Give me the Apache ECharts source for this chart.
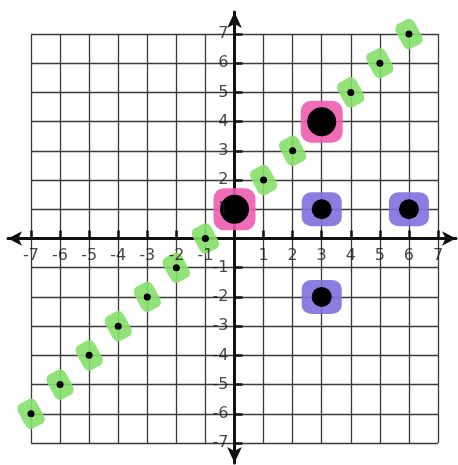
<!DOCTYPE html>
<html>
<head>
<meta charset="utf-8">
<script src="https://cdn.jsdelivr.net/npm/echarts@6/dist/echarts.min.js"></script>
<style>
  html, body { margin: 0; padding: 0; background: #fff; }
  #chart { width: 458px; height: 465px; }
</style>
</head>
<body>
<div id="chart"></div>
<script>
// axis range and ticks
const axisMin = -7
const axisMax = 7
const tickStep = 1
// tick labels written along the axes (no 0)
const xTickLabels = [-7, -6, -5, -4, -3, -2, -1, 1, 2, 3, 4, 5, 6, 7]
const yTickLabels = [-7, -6, -5, -4, -3, -2, -1, 1, 2, 3, 4, 5, 6, 7]

// points on the line y = x + 1 (green highlight)
const greenX = [-7, -6, -5, -4, -3, -2, -1, 1, 2, 4, 5, 6]
const greenY = [-6, -5, -4, -3, -2, -1, 0, 2, 3, 5, 6, 7]

// pink highlighted points
const pinkX = [0, 3]
const pinkY = [1, 4]

// purple highlighted points
const purpleX = [3, 6, 3]
const purpleY = [1, 1, -2]

const W = 458
const H = 465
// main grid box in pixels
const gLeft = 31, gRight = 20, gTop = 34, gBottom = 22
// where the arrows end
const arrLeft = 8, arrRight = 2, arrTop = 12, arrBottom = 2

const unitX = (W - gLeft - gRight) / (axisMax - axisMin)
const unitY = (H - gTop - gBottom) / (axisMax - axisMin)
const zeroX = gLeft - axisMin * unitX
const zeroY = gTop + axisMax * unitY
const extXMin = -(zeroX - arrLeft) / unitX
const extXMax = (W - arrRight - zeroX) / unitX
const extYMax = (zeroY - arrTop) / unitY
const extYMin = -(H - arrBottom - zeroY) / unitY

const pairs = (xs, ys) => xs.map((x, i) => [x, ys[i]])

const chart = echarts.init(document.getElementById('chart'))

const labelFont = {
  fontFamily: 'DejaVu Sans',
  fontSize: 16,
  color: '#1a1a1a',
}
const gridLine = { color: '#3a3a3a', width: 1.3 }

chart.setOption({
  animation: false,
  backgroundColor: '#fff',
  grid: [
    { left: gLeft, right: gRight, top: gTop, bottom: gBottom, containLabel: false, outerBoundsMode: 'none' },
    { left: arrLeft, right: arrRight, top: arrTop, bottom: arrBottom, containLabel: false, outerBoundsMode: 'none' },
  ],
  xAxis: [
    {
      type: 'value',
      gridIndex: 0,
      min: axisMin,
      max: axisMax,
      interval: tickStep,
      axisLine: { show: true, onZero: true, lineStyle: { color: '#111', width: 3 } },
      axisTick: { show: true, inside: true, length: 8, lineStyle: { color: '#111', width: 2.5 } },
      axisLabel: { show: false },
      splitLine: { show: true, lineStyle: gridLine },
    },
    {
      type: 'value',
      gridIndex: 1,
      min: extXMin,
      max: extXMax,
      axisLine: {
        show: true,
        onZero: true,
        symbol: ['arrow', 'arrow'],
        symbolSize: [11, 14],
        lineStyle: { color: '#111', width: 3 },
      },
      axisTick: { show: false },
      axisLabel: { show: false },
      splitLine: { show: false },
    },
  ],
  yAxis: [
    {
      type: 'value',
      gridIndex: 0,
      min: axisMin,
      max: axisMax,
      interval: tickStep,
      axisLine: { show: true, onZero: true, lineStyle: { color: '#111', width: 3 } },
      axisTick: { show: true, inside: true, length: 8, lineStyle: { color: '#111', width: 2.5 } },
      axisLabel: { show: false },
      splitLine: { show: true, lineStyle: gridLine },
    },
    {
      type: 'value',
      gridIndex: 1,
      min: extYMin,
      max: extYMax,
      axisLine: {
        show: true,
        onZero: true,
        symbol: ['arrow', 'arrow'],
        symbolSize: [11, 16],
        lineStyle: { color: '#111', width: 3 },
      },
      axisTick: { show: false },
      axisLabel: { show: false },
      splitLine: { show: false },
    },
  ],
  series: [
    {
      name: 'x labels',
      type: 'scatter',
      xAxisIndex: 0,
      yAxisIndex: 0,
      data: xTickLabels.map((v) => [v, 0]),
      symbolSize: 0,
      silent: true,
      label: {
        show: true,
        position: 'bottom',
        distance: 9,
        ...labelFont,
        formatter: (p) => String(p.value[0]),
      },
      z: 5,
    },
    {
      name: 'y labels',
      type: 'scatter',
      xAxisIndex: 0,
      yAxisIndex: 0,
      data: yTickLabels.map((v) => [0, v]),
      symbolSize: 0,
      silent: true,
      label: {
        show: true,
        position: 'left',
        distance: 6,
        ...labelFont,
        formatter: (p) => String(p.value[1]),
      },
      z: 5,
    },
    {
      name: 'green mark',
      type: 'scatter',
      xAxisIndex: 0,
      yAxisIndex: 0,
      data: pairs(greenX, greenY),
      symbol: 'roundRect',
      symbolSize: [21, 28],
      symbolRotate: 28,
      itemStyle: { color: '#86df6c', opacity: 0.9 },
      z: 3,
    },
    {
      name: 'pink mark',
      type: 'scatter',
      xAxisIndex: 0,
      yAxisIndex: 0,
      data: pairs(pinkX, pinkY),
      symbol: 'roundRect',
      symbolSize: [42, 42],
      itemStyle: { color: '#ee5cae', opacity: 0.9 },
      z: 3,
    },
    {
      name: 'purple mark',
      type: 'scatter',
      xAxisIndex: 0,
      yAxisIndex: 0,
      data: pairs(purpleX, purpleY),
      symbol: 'roundRect',
      symbolSize: [40, 34],
      itemStyle: { color: '#8070de', opacity: 0.9 },
      z: 3,
    },
    {
      name: 'green dot',
      type: 'scatter',
      xAxisIndex: 0,
      yAxisIndex: 0,
      data: pairs(greenX, greenY),
      symbolSize: 7,
      itemStyle: { color: '#000', opacity: 1 },
      z: 4,
    },
    {
      name: 'pink dot',
      type: 'scatter',
      xAxisIndex: 0,
      yAxisIndex: 0,
      data: pairs(pinkX, pinkY),
      symbolSize: 29,
      itemStyle: { color: '#000', opacity: 1 },
      z: 4,
    },
    {
      name: 'purple dot',
      type: 'scatter',
      xAxisIndex: 0,
      yAxisIndex: 0,
      data: pairs(purpleX, purpleY),
      symbolSize: 20,
      itemStyle: { color: '#000', opacity: 1 },
      z: 4,
    },
  ],
})
</script>
</body>
</html>
